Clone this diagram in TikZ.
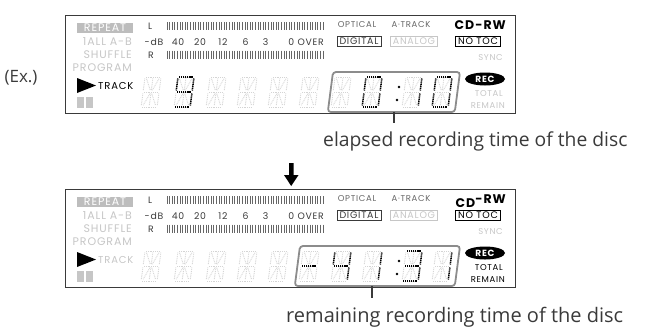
\documentclass[tikz,border=0pt]{standalone}
\usepackage{fontspec}
\setmainfont{Open Sans}
\newfontfamily\lcdf{Poppins}[LetterSpace=8]
\usetikzlibrary{shapes.geometric}
\definecolor{lite}{HTML}{C6C6C6}
\definecolor{faint}{HTML}{D4D4D4}
\definecolor{midg}{HTML}{666666}
\definecolor{dkg}{HTML}{3A3A3A}
\definecolor{repg}{HTML}{BDBDBD}
\definecolor{hbox}{HTML}{8C8C8C}
\pgfkeys{/sg/.is family,
 /sg/t/.initial={1/0/15/0},
 /sg/ul/.initial={0/1.5/0/13.5},
 /sg/ur/.initial={16/1.5/16/13.5},
 /sg/uc/.initial={8/1.5/8/13.5},
 /sg/ua/.initial={1.8/1.8/7/13.2},
 /sg/ub/.initial={14.2/1.8/9/13.2},
 /sg/m/.initial={1/15/15/15},
 /sg/ll/.initial={0/16.5/0/28.5},
 /sg/lr/.initial={16/16.5/16/28.5},
 /sg/lc/.initial={8/16.5/8/28.5},
 /sg/la/.initial={7/16.8/1.8/28.2},
 /sg/lb/.initial={9/16.8/14.2/28.2},
 /sg/b/.initial={1/30/15/30}}
\def\segsplit#1/#2/#3/#4\relax#5{\draw[#5] (#1,#2) -- (#3,#4);}
\newcommand\drawseg[2]{\edef\tmpseg{\pgfkeysvalueof{/sg/#2}}\expandafter\segsplit\tmpseg\relax{#1}}
\newcommand\faintcell[2]{%
 \begin{scope}[shift={(#1,#2)}, xslant=0.13]
 \foreach \s in {t,ul,ur,uc,ua,ub,m,ll,lr,lc,la,lb,b} {\drawseg{faintseg}{\s}}
 \end{scope}}
\newcommand\darkcell[3]{%
 \begin{scope}[shift={(#1,#2)}, xslant=0.13]
 \foreach \s in {#3} {\drawseg{darkseg}{\s}}
 \end{scope}}
\tikzset{
 faintseg/.style={faint, line width=0.9pt, dash pattern=on 0.9pt off 0.9pt},
 darkseg/.style={black, line width=1.5pt, dash pattern=on 1.2pt off 0.7pt},
 lbl/.style={font=\lcdf\fontsize{8.5}{9}\selectfont, inner sep=0pt},
 lblM/.style={font=\lcdf\fontsize{9.3}{10}\selectfont, inner sep=0pt},
 lblL/.style={font=\lcdf\fontsize{11}{11}\selectfont, inner sep=0pt},
 lbls/.style={font=\lcdf\fontsize{10}{10}\selectfont, inner sep=0pt},
 frame/.style={draw=dkg, line width=1pt, minimum width=450pt, minimum height=98pt, inner sep=0pt},
 tagbox/.style={font=\lcdf\fontsize{9.5}{10}\selectfont, draw, line width=0.8pt, inner xsep=2.5pt, inner ysep=1.6pt},
 meter/.style={midg, line width=0.7pt},
 capt/.style={text=dkg, inner sep=0pt},
 tick/.style={dkg, line width=2pt},
 hl/.style={hbox, line width=1.8pt, rounded corners=3pt}
}
\newcommand\panelcommon[1]{%
 \node[frame] (fr#1) at (290,64) {};
 \node[lblL, fill=repg, text=white, minimum width=56pt, minimum height=10pt] (rep#1) at (105,27.5) {REPEAT};
 \node[lblL, text=lite, anchor=east] (all#1) at (132,42) {1ALL A-B};
 \node[lblL, text=lite, anchor=east] (shf#1) at (132,55) {SHUFFLE};
 \node[lblL, text=lite, anchor=east] (prg#1) at (132,68) {PROGRAM};
 \fill (77,78) -- (77,93) -- (96,85.5) -- cycle;
 \fill[lite] (77,97) rectangle (83.5,108);
 \fill[lite] (86,97) rectangle (92.5,108);
 \node[lblM, text=dkg, anchor=west] (ll#1) at (148,26) {L};
 \node[lblM, text=dkg, anchor=west] (rr#1) at (148,55) {R};
 \node[lblM, text=dkg] (db#1) at (154,42) {-dB};
 \node[lblM, text=dkg] (d40#1) at (178,42) {40};
 \node[lblM, text=dkg] (d20#1) at (200,42) {20};
 \node[lblM, text=dkg] (d12#1) at (223,42) {12};
 \node[lblM, text=dkg] (d6#1) at (245.5,42) {6};
 \node[lblM, text=dkg] (d3#1) at (265.5,42) {3};
 \node[lblM, text=dkg, anchor=east] (ov#1) at (324,42) {0 OVER};
 \foreach \i in {0,...,60} {\draw[meter] ({167+\i*2.6},22) -- ++(0,8); \draw[meter] ({167+\i*2.6},50.5) -- ++(0,8);}
 \node[lbl, text=midg] (opt#1) at (357,25) {OPTICAL};
 \node[lbl, text=midg] (atr#1) at (411,25) {A·TRACK};
 \node[tagbox, draw=dkg, text=dkg] (dig#1) at (359,41) {DIGITAL};
 \node[tagbox, draw=lite, text=lite] (ana#1) at (414,41) {ANALOG};
 \node[tagbox, draw=black, text=black] (ntc#1) at (478,41) {NO TOC};
 \node[lbl, text=lite, anchor=east] (syn#1) at (503,58) {SYNC};
 \node[ellipse, fill=black, text=white, font=\lcdf\bfseries\fontsize{9}{9}\selectfont, inner sep=0pt, minimum width=40pt, minimum height=13pt] (rec#1) at (485,79) {REC};
 \foreach \x in {145,178,210,241,272,303} {\faintcell{\x}{77}}
}
\begin{document}
\begin{tikzpicture}[x=1pt, y=-1pt]
\useasboundingbox (0,0) rectangle (663,333);
\node[capt, font=\fontsize{17}{18}\selectfont] (ex) at (21,78) {(Ex.)};
% ---------- panel 1 ----------
\panelcommon{a}
\node[lbls, text=black, anchor=west] (trk) at (98,85.5) {TRACK};
\node[lbl, text=black, anchor=east, font=\lcdf\bfseries\fontsize{12.5}{12}\selectfont] (cd) at (506,25) {CD-RW};
\node[lbl, text=lite, anchor=east] (tot) at (503,94) {TOTAL};
\node[lbl, text=lite, anchor=east] (rem) at (505,106) {REMAIN};
\darkcell{178}{77}{t,ul,ur,m,lr,b}
\draw[hl, shift={(333,72)}, xslant=0.13] (0,0) rectangle (127,40);
\foreach \x in {335,366,406,436} {\faintcell{\x}{77}}
\darkcell{366}{77}{t,ul,ur,ll,lr,b}
\fill (399,87) circle (1.3pt) (397,100) circle (1.3pt);
\darkcell{406}{77}{ur,lr}
\darkcell{436}{77}{t,ul,ur,ll,lr,b}
\node[capt, anchor=west, font=\fontsize{19.3}{20}\selectfont] (cap1) at (323,141) {elapsed recording time of the disc};
\coordinate (tka) at (394,112);
\coordinate (tkb) at (394,123);
\draw[tick] (tka) -- (tkb);
% ---------- arrow ----------
\fill (289,163) rectangle (293.5,175) (284,175) -- (298.5,175) -- (291.2,186) -- cycle;
% ---------- panel 2 ----------
\begin{scope}[shift={(0,174)}]
\panelcommon{b}
\node[lbls, text=lite, anchor=west] (trk2) at (98,85.5) {TRACK};
\node[lbl, text=black, anchor=east, font=\lcdf\bfseries\fontsize{12.5}{12}\selectfont] (cd2) at (506,27) {CD\raisebox{4pt}{-RW}};
\node[lbl, text=black, anchor=east] (tot2) at (503,94) {TOTAL};
\node[lbl, text=black, anchor=east] (rem2) at (505,106) {REMAIN};
\draw[hl, shift={(300,72)}, xslant=0.13] (0,0) rectangle (160,40);
\foreach \x in {335,366,406,436} {\faintcell{\x}{77}}
\darkcell{303}{77}{m}
\darkcell{335}{77}{ul,ur,m,lr}
\darkcell{366}{77}{ur,lr}
\fill (399,87) circle (1.3pt) (397,100) circle (1.3pt);
\darkcell{406}{77}{t,ur,m,lr,b}
\darkcell{436}{77}{ur,lr}
\coordinate (tkc) at (372,112);
\coordinate (tkd) at (372,124);
\draw[tick] (tkc) -- (tkd);
\node[capt, anchor=west, font=\fontsize{20}{20}\selectfont] (cap2) at (286,143) {remaining recording time of the disc};
\end{scope}
\end{tikzpicture}
\end{document}
